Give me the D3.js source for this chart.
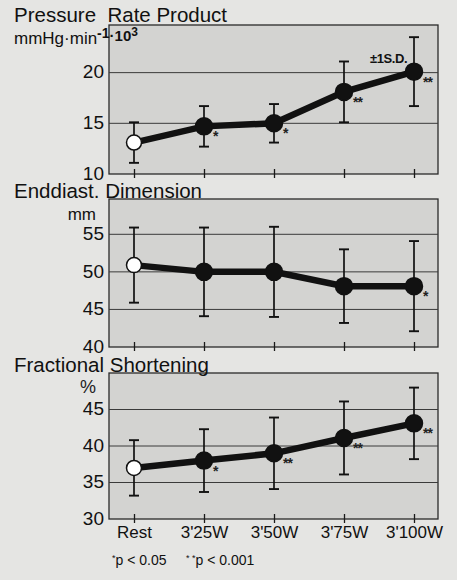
<!DOCTYPE html>
<html>
<head>
<meta charset="utf-8">
<script src="https://cdn.jsdelivr.net/npm/d3@7"></script>
<style>
  body { margin: 0; background: #e5e5e3; }
  svg { display: block; font-family: 'Liberation Sans', Arial, sans-serif; }
</style>
</head>
<body>
<div class="chart"></div>
<script>
// exercise stages
var stages = ['Rest', "3'25W", "3'50W", "3'75W", "3'100W"]

// Pressure rate product (mmHg·min-1·10^3)
var prpMean = [13.1, 14.7, 15.0, 18.1, 20.1]
var prpSD = [2.0, 2.0, 1.9, 3.0, 3.4]
var prpSig = ['', '*', '*', '**', '**']
var prpTicks = [10, 15, 20]

// Enddiastolic dimension (mm)
var eddMean = [50.9, 50.0, 50.0, 48.1, 48.1]
var eddSD = [5.0, 5.9, 6.0, 4.9, 6.0]
var eddSig = ['', '', '', '', '*']
var eddTicks = [40, 45, 50, 55]

// Fractional shortening (%)
var fsMean = [37.0, 38.0, 39.0, 41.1, 43.1]
var fsSD = [3.8, 4.3, 4.9, 5.0, 4.9]
var fsSig = ['', '*', '**', '**', '**']
var fsTicks = [30, 35, 40, 45]

var width = 457
var height = 580
var left = 109
var right = 438

var svg = d3.select('.chart')
  .append('svg')
  .attr('width', width)
  .attr('height', height)

var xScale = d3.scalePoint()
  .domain(stages)
  .range([134, 414])

var panels = [
  { title: 'Pressure  Rate Product', titleY: 22, top: 25, bottom: 174,
    domain: [10, 24.7], ticks: prpTicks, mean: prpMean, sd: prpSD, sig: prpSig },
  { title: 'Enddiast. Dimension', titleY: 198, top: 199, bottom: 347,
    domain: [40, 59.7], ticks: eddTicks, mean: eddMean, sd: eddSD, sig: eddSig },
  { title: 'Fractional Shortening', titleY: 372, top: 373, bottom: 519,
    domain: [30, 50], ticks: fsTicks, mean: fsMean, sd: fsSD, sig: fsSig }
]

panels.forEach(function(p, pi) {
  var yScale = d3.scaleLinear()
    .domain(p.domain)
    .range([p.bottom, p.top])

  var g = svg.append('g')

  // shaded plot area
  g.append('rect')
    .attr('x', left)
    .attr('y', p.top)
    .attr('width', right - left)
    .attr('height', p.bottom - p.top)
    .attr('fill', '#d3d3d1')
    .attr('stroke', '#2a2a2a')
    .attr('stroke-width', 1.3)

  // gridlines
  g.selectAll('.grid')
    .data(p.ticks.filter(function(t) { return t > p.domain[0] }))
    .enter()
    .append('line')
    .attr('x1', left)
    .attr('x2', right)
    .attr('y1', function(d) { return yScale(d) })
    .attr('y2', function(d) { return yScale(d) })
    .attr('stroke', '#3a3a3a')
    .attr('stroke-width', 1)

  // y axis labels
  var yAxis = d3.axisLeft(yScale)
    .tickValues(p.ticks)
    .tickSize(0)
    .tickPadding(5)
  var ya = g.append('g')
    .attr('transform', 'translate(' + left + ',0)')
    .call(yAxis)
  ya.select('.domain').remove()
  ya.selectAll('text')
    .attr('font-size', 19)
    .attr('fill', '#111')
    .attr('dy', '0.28em')
    .attr('font-family', "'Liberation Sans', Arial, sans-serif")

  // x ticks crossing the bottom border
  var xAxis = d3.axisBottom(xScale)
    .tickSize(4)
    .tickFormat(pi === 2 ? null : '')
  var xa = g.append('g')
    .attr('transform', 'translate(0,' + p.bottom + ')')
    .call(xAxis)
  xa.select('.domain').remove()
  xa.selectAll('.tick line')
    .attr('y1', -5)
    .attr('stroke', '#1a1a1a')
    .attr('stroke-width', 1.3)
  xa.selectAll('text')
    .attr('font-size', 17)
    .attr('fill', '#111')
    .attr('y', 19)
    .attr('dy', 0)
    .attr('font-family', "'Liberation Sans', Arial, sans-serif")

  // title
  g.append('text')
    .attr('x', 14)
    .attr('y', p.titleY)
    .attr('font-size', 20.5)
    .attr('fill', '#111')
    .style('white-space', 'pre')
    .text(p.title)

  // error bars
  var bars = g.selectAll('.err')
    .data(stages)
    .enter()
    .append('g')
  bars.append('line')
    .attr('x1', function(d) { return xScale(d) })
    .attr('x2', function(d) { return xScale(d) })
    .attr('y1', function(d, i) { return yScale(p.mean[i] + p.sd[i]) })
    .attr('y2', function(d, i) { return yScale(p.mean[i] - p.sd[i]) })
    .attr('stroke', '#111')
    .attr('stroke-width', 1.7)
  bars.append('line')
    .attr('x1', function(d) { return xScale(d) - 5 })
    .attr('x2', function(d) { return xScale(d) + 5 })
    .attr('y1', function(d, i) { return yScale(p.mean[i] + p.sd[i]) })
    .attr('y2', function(d, i) { return yScale(p.mean[i] + p.sd[i]) })
    .attr('stroke', '#111')
    .attr('stroke-width', 1.9)
  bars.append('line')
    .attr('x1', function(d) { return xScale(d) - 5 })
    .attr('x2', function(d) { return xScale(d) + 5 })
    .attr('y1', function(d, i) { return yScale(p.mean[i] - p.sd[i]) })
    .attr('y2', function(d, i) { return yScale(p.mean[i] - p.sd[i]) })
    .attr('stroke', '#111')
    .attr('stroke-width', 1.9)

  // thick connecting line
  var line = d3.line()
    .x(function(d) { return xScale(d) })
    .y(function(d, i) { return yScale(p.mean[i]) })
  g.append('path')
    .datum(stages)
    .attr('d', line)
    .attr('fill', 'none')
    .attr('stroke', '#111')
    .attr('stroke-width', 6.5)

  // points
  g.selectAll('.pt')
    .data(stages)
    .enter()
    .append('circle')
    .attr('cx', function(d) { return xScale(d) })
    .attr('cy', function(d, i) { return yScale(p.mean[i]) })
    .attr('r', function(d, i) { return i === 0 ? 7.5 : 8.5 })
    .attr('fill', function(d, i) { return i === 0 ? '#fff' : '#111' })
    .attr('stroke', '#111')
    .attr('stroke-width', 1.5)

  // significance marks
  g.selectAll('.sig')
    .data(stages)
    .enter()
    .append('text')
    .attr('x', function(d) { return xScale(d) + 9 })
    .attr('y', function(d, i) { return yScale(p.mean[i]) + 15 })
    .attr('font-size', 14)
    .attr('font-weight', 'bold')
    .attr('letter-spacing', -1)
    .attr('fill', '#222')
    .text(function(d, i) { return p.sig[i] })
})

// unit labels
var unit1 = svg.append('text')
  .attr('x', 14)
  .attr('y', 44)
  .attr('font-size', 17)
  .attr('fill', '#111')
unit1.append('tspan').text('mmHg·min')
unit1.append('tspan').attr('dy', -6).attr('font-weight', 'bold').attr('font-size', 14).text('-1')
unit1.append('tspan').attr('dy', 3).attr('font-weight', 'bold').attr('font-size', 15).text('·10')
unit1.append('tspan').attr('dy', -5).attr('font-weight', 'bold').attr('font-size', 12).text('3')

svg.append('text')
  .attr('x', 96)
  .attr('y', 220)
  .attr('text-anchor', 'end')
  .attr('font-size', 17)
  .attr('fill', '#111')
  .text('mm')

svg.append('text')
  .attr('x', 96)
  .attr('y', 393)
  .attr('text-anchor', 'end')
  .attr('font-size', 18)
  .attr('fill', '#222')
  .text('%')

svg.append('text')
  .attr('x', 370)
  .attr('y', 63)
  .attr('font-size', 13)
  .attr('font-weight', 'bold')
  .attr('letter-spacing', -0.4)
  .attr('fill', '#111')
  .text('±1S.D.')

// footnote
var foot = svg.append('text')
  .attr('x', 112)
  .attr('y', 565)
  .attr('font-size', 14)
  .attr('fill', '#111')
  .style('white-space', 'pre')
foot.append('tspan').attr('font-size', 9).attr('dy', -4).text('*')
foot.append('tspan').attr('dy', 4).text('p < 0.05     ')
foot.append('tspan').attr('font-size', 9).attr('dy', -4).text('* *')
foot.append('tspan').attr('dy', 4).text('p < 0.001')
</script>
</body>
</html>
